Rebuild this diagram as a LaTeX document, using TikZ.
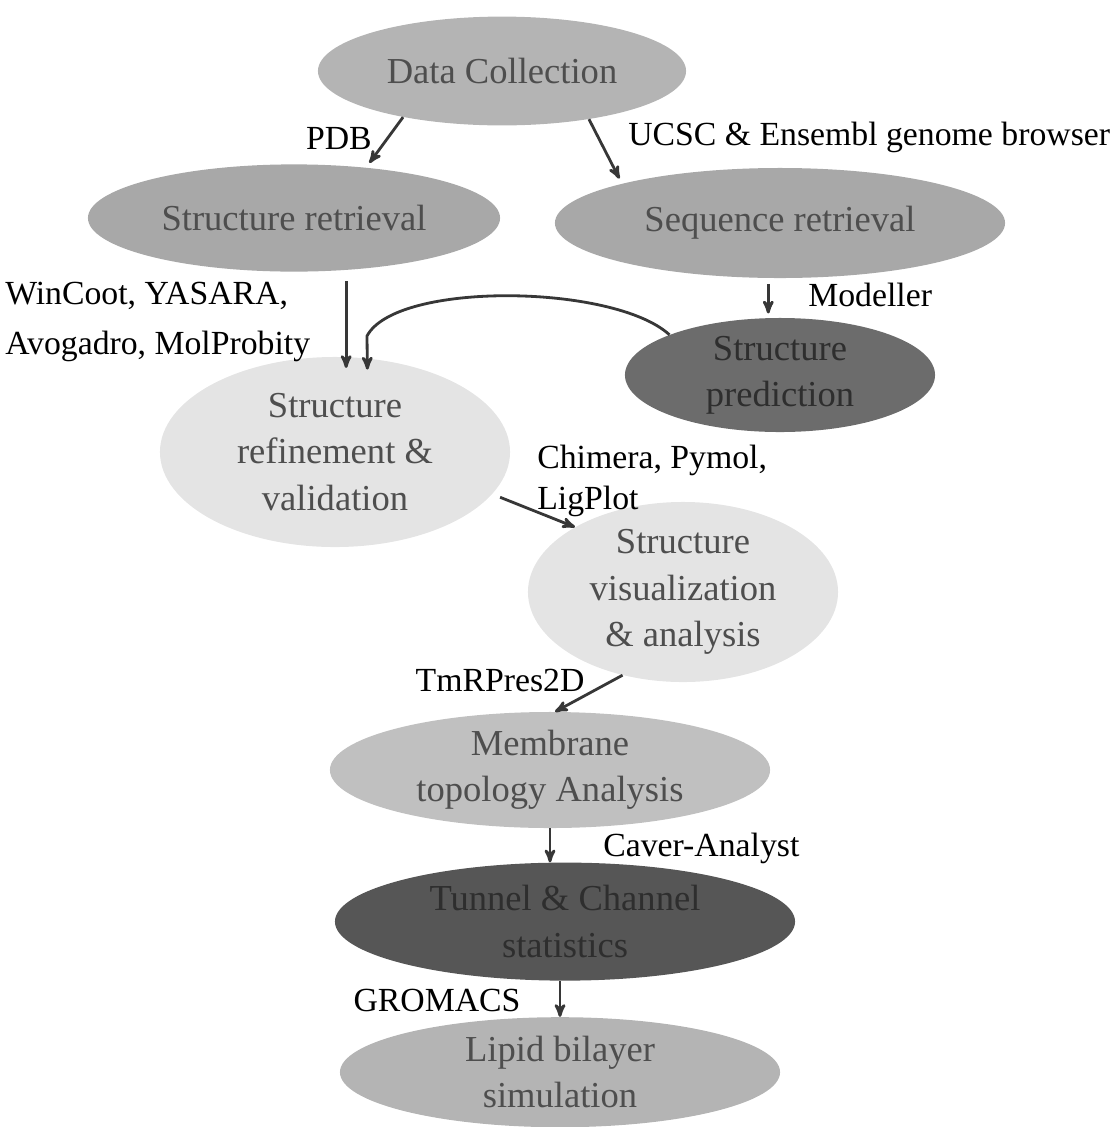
\documentclass[tikz,border=0pt]{standalone}
\usepackage{fontspec}
\setmainfont{Liberation Serif}
\usetikzlibrary{positioning,shapes,arrows}

\definecolor{arrowgrey}{RGB}{55,55,55}
\definecolor{stagetext}{RGB}{78,78,78}
\definecolor{topgrey}{RGB}{180,180,180}
\definecolor{retgrey}{RGB}{168,168,168}
\definecolor{darkgrey}{RGB}{108,108,108}
\definecolor{deepgrey}{RGB}{86,86,86}
\definecolor{palegrey}{RGB}{228,228,228}
\definecolor{softgrey}{RGB}{192,192,192}

\begin{document}
\begin{tikzpicture}[x=0.025cm,y=-0.025cm,->,>=stealth',
                    link/.style={draw=arrowgrey,line width=2pt},
                    every edge/.style={link},
                    stage node/.style={ellipse,inner sep=0pt,align=center,text=stagetext,
                                       font=\fontsize{26}{33}\selectfont},
                    dark node/.style={stage node,fill=darkgrey,text=black!82},
                    tool label/.style={align=left,inner sep=0pt,font=\fontsize{24}{35}\selectfont}
                   ]
  \useasboundingbox (0,0) rectangle (1115,1127);

  % stages
  \node[stage node,fill=topgrey,minimum width=9.2cm,minimum height=2.72cm] (data) at (502,71) {Data Collection};
  \node[stage node,fill=retgrey,minimum width=10.3cm,minimum height=2.68cm] (sret) at (294,218) {Structure retrieval};
  \node[stage node,fill=retgrey,minimum width=11.25cm,minimum height=2.75cm] (seq) at (780,223) {Sequence retrieval};
  \node[dark node,minimum width=7.75cm,minimum height=2.85cm] (pred) at (780,375) {Structure\\prediction};
  \node[stage node,fill=palegrey,minimum width=8.75cm,minimum height=4.75cm] (refine) at (335,452) {Structure\\refinement \&\\validation};
  \node[stage node,fill=palegrey,minimum width=7.75cm,minimum height=4.5cm] (vis) at (683,592) {Structure\\visualization\\\& analysis};
  \node[stage node,fill=softgrey,minimum width=11cm,minimum height=2.9cm] (membrane) at (550,770) {Membrane\\topology Analysis};
  \node[dark node,fill=deepgrey,minimum width=11.5cm,minimum height=2.95cm] (tunnel) [below=0.85cm of membrane,xshift=0.375cm] {Tunnel \& Channel\\statistics};
  \node[stage node,fill=topgrey,minimum width=11cm,minimum height=2.75cm] (lipid) [below=0.9cm of tunnel,xshift=-0.125cm] {Lipid bilayer\\simulation};

  % tools
  \node[tool label,anchor=east] (pdbl) at (372,138) {PDB};
  \node[tool label,anchor=west] (ucscl) at (628,137) {UCSC \& Ensembl genome browser};
  \node[tool label,anchor=west] (cootl) at (5,322) {WinCoot, YASARA,\\Avogadro, MolProbity};
  \node[tool label,anchor=west] (modl) at (808,295) {Modeller};
  \node[tool label,anchor=west,font=\fontsize{24}{29}\selectfont] (chiml) at (537,481) {Chimera, Pymol,\\LigPlot};
  \node[tool label] (tmrl) at (500,680) {TmRPres2D};
  \node[tool label,anchor=west] (caverl) at (603,848) {Caver-Analyst};
  \node[tool label] (groml) at (437,1000) {GROMACS};

  \path
    (data.205) edge [shorten >=4pt] (sret.35)
    (data.-29) edge [shorten >=4pt] (seq.166)
    (sret.-45) edge [shorten <=8pt,shorten >=-8pt] (sret.-45 |- refine.north)
    (seq.-102) edge [shorten <=4pt,shorten >=3pt] (seq.-102 |- pred.north)
    (refine.-15) edge [shorten <=6pt] (vis.149)
    (vis.234) edge (membrane.85)
    (membrane.south) edge (membrane.south |- tunnel.north)
    (lipid.north |- tunnel.south) edge (lipid.north);
  % model goes back to refinement
  \coordinate (bend) at (367,336);
  \draw[link,shorten >=-8pt] (pred.160) .. controls (614,284) and (396,281) .. (bend) -- (refine.71);
\end{tikzpicture}
\end{document}
